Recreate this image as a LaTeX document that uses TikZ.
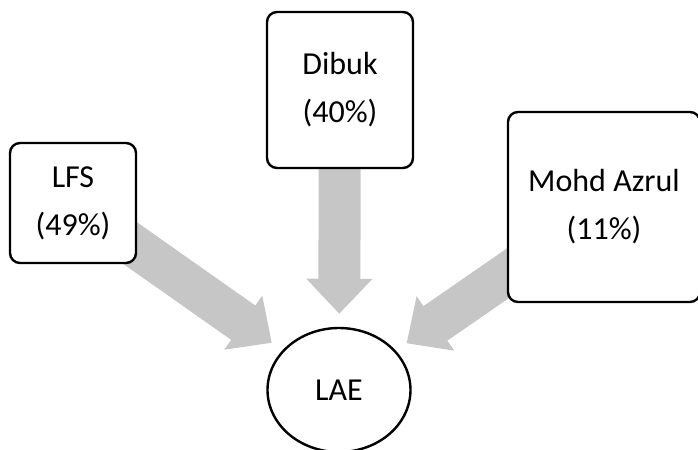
\documentclass[tikz,border=0pt]{standalone}
\usepackage{fontspec}
\setmainfont{Carlito}
\usetikzlibrary{shapes.geometric,arrows.meta,backgrounds}

\begin{document}
\begin{tikzpicture}[x=0.5pt,y=-0.5pt,
  box/.style={draw,line width=1.2pt,rounded corners=5pt,fill=white,align=center,
    font=\fontsize{16}{24}\selectfont},
  share/.style={draw=gray!45,line width=21pt,-{Triangle[width=32pt,length=17.5pt]},
    shorten >=6.5pt,shorten <=-8pt}]
  \useasboundingbox (0,0) rectangle (698,450);

  % Owners and the company
  \node[box,minimum width=63pt,minimum height=60pt] (lfs) at (73,203) {LFS\\(49\%)};
  \node[box,minimum width=73pt,minimum height=78pt] (dibuk) at (340,90) {Dibuk\\(40\%)};
  \node[box,minimum width=96pt,minimum height=95pt] (azrul) at (604,207) {Mohd Azrul\\(11\%)};
  \node[draw,ellipse,line width=1.2pt,fill=white,minimum width=71.5pt,minimum height=62pt,
    font=\fontsize{16}{24}\selectfont] (lae) at (339,390) {LAE};

  % Shares
  \begin{scope}[on background layer]
    \draw[share] (lfs) -- (lae);
    \draw[share] (dibuk) -- (lae);
    \draw[share] (azrul) -- (lae);
  \end{scope}
\end{tikzpicture}
\end{document}
